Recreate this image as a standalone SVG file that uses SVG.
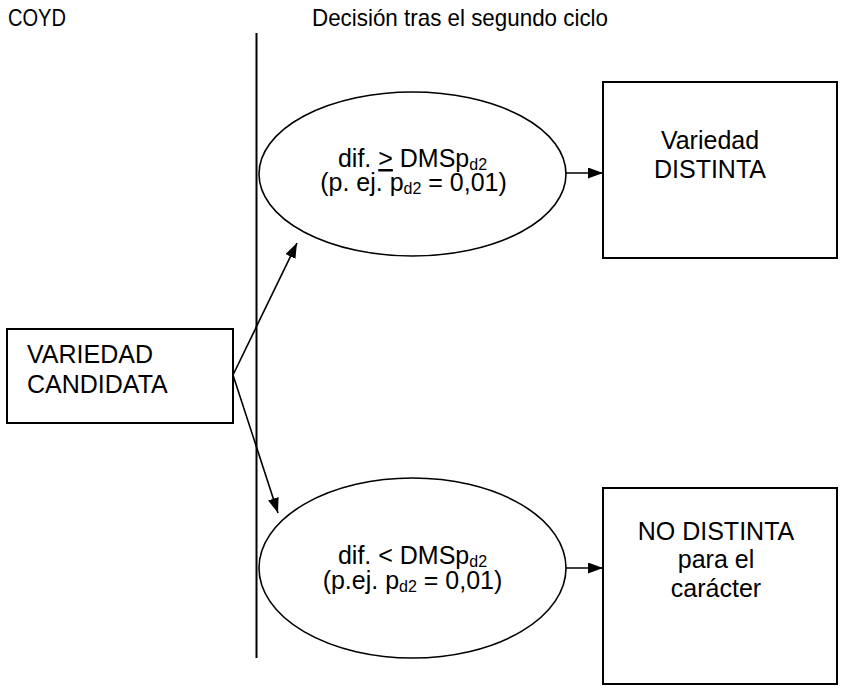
<svg xmlns="http://www.w3.org/2000/svg" width="849" height="686" viewBox="0 0 849 686">
<defs>
<style>
text{font-family:"Liberation Sans",Arial,sans-serif;font-size:25px;fill:#000}
.hdr{font-size:24px}
.box{fill:#fff;stroke:#000;stroke-width:2}
.ell{fill:#fff;stroke:#000;stroke-width:1.6}
.con{fill:none;stroke:#000;stroke-width:1.6}
.sub{font-size:16px}
</style>
<marker id="ah" markerUnits="userSpaceOnUse" markerWidth="16" markerHeight="12" refX="15" refY="5.5" orient="auto">
<path d="M0,0 L15,5.5 L0,11 z" fill="#000"/>
</marker>
</defs>
<rect width="849" height="686" fill="#fff"/>
<g id="titles">
<text class="hdr" x="8" y="26" textLength="58" lengthAdjust="spacingAndGlyphs">COYD</text>
<text class="hdr" x="312" y="26" textLength="296" lengthAdjust="spacingAndGlyphs">Decisión tras el segundo ciclo</text>
</g>
<g id="divider">
<line x1="256.5" y1="33" x2="256.5" y2="658" stroke="#000" stroke-width="2"/>
</g>
<g id="connectors">
<line class="con" x1="233" y1="375" x2="297" y2="243" marker-end="url(#ah)"/>
<line class="con" x1="233" y1="375" x2="278" y2="513" marker-end="url(#ah)"/>
<line class="con" x1="566" y1="173" x2="603" y2="173" marker-end="url(#ah)"/>
<line class="con" x1="566" y1="568" x2="603" y2="568" marker-end="url(#ah)"/>
</g>
<g id="candidata">
<rect class="box" x="7" y="329" width="226" height="94"/>
<text x="27" y="363">VARIEDAD</text>
<text x="27" y="393">CANDIDATA</text>
</g>
<g id="ellipse-top">
<ellipse class="ell" cx="412.5" cy="174" rx="153.5" ry="82"/>
<text x="412.5" y="167" text-anchor="middle">dif. <tspan text-decoration="underline">&gt;</tspan> DMSp<tspan class="sub" dy="3">d2</tspan></text>
<text x="413.5" y="191" text-anchor="middle">(p. ej. p<tspan class="sub" dy="3">d2</tspan><tspan dy="-3"> = 0,01)</tspan></text>
</g>
<g id="ellipse-bottom">
<ellipse class="ell" cx="412.5" cy="568" rx="153.5" ry="90"/>
<text x="412.5" y="564" text-anchor="middle">dif. &lt; DMSp<tspan class="sub" dy="3">d2</tspan></text>
<text x="412.5" y="589" text-anchor="middle">(p.ej. p<tspan class="sub" dy="3">d2</tspan><tspan dy="-3"> = 0,01)</tspan></text>
</g>
<g id="distinta">
<rect class="box" x="603" y="82" width="234" height="176"/>
<text x="710" y="149" text-anchor="middle">Variedad</text>
<text x="710" y="178" text-anchor="middle">DISTINTA</text>
</g>
<g id="no-distinta">
<rect class="box" x="603" y="488" width="234" height="196"/>
<text x="716" y="540" text-anchor="middle">NO DISTINTA</text>
<text x="716" y="568" text-anchor="middle">para el</text>
<text x="716" y="597" text-anchor="middle">carácter</text>
</g>
</svg>
